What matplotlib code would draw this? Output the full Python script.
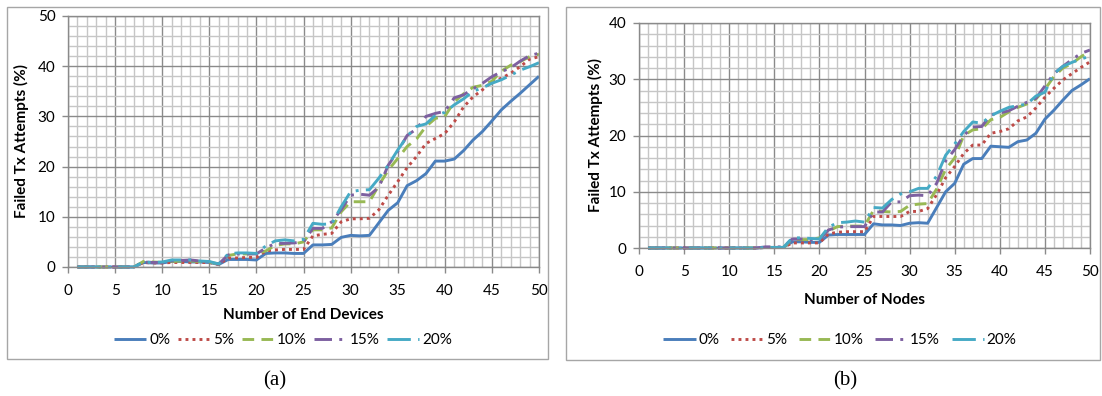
import matplotlib
matplotlib.use("Agg")
import matplotlib.pyplot as plt
from matplotlib.patches import Rectangle
from matplotlib.ticker import MultipleLocator

plt.rcParams['font.family'] = ['Lato', 'DejaVu Sans']

# ---- data -------------------------------------------------------------
nodes = list(range(1, 51))
series_labels = ["0%", "5%", "10%", "15%", "20%"]

# (a) failed transmission attempts vs number of end devices
end_dev_0 = [0, 0, 0, 0, 0, 0, 0, 0.9, 0.8, 0.8,
             1.1, 1.1, 1.0, 1.0, 0.9, 0.5, 1.5, 1.5, 1.5, 1.4,
             2.7, 2.8, 2.8, 2.7, 2.7, 4.4, 4.4, 4.5, 5.9, 6.3,
             6.2, 6.3, 8.8, 11.3, 12.8, 16.2, 17.2, 18.6, 21.1, 21.1,
             21.5, 23.2, 25.3, 27.0, 29.1, 31.3, 33.0, 34.6, 36.3, 38.0]
end_dev_5 = [0, 0, 0, 0, 0, 0, 0, 0.9, 0.8, 0.8,
             0.9, 0.9, 0.9, 0.9, 0.9, 0.5, 1.8, 1.8, 1.9, 1.9,
             3.2, 3.4, 3.5, 3.5, 3.5, 6.2, 6.5, 6.7, 9.0, 9.6,
             9.6, 9.7, 11.4, 14.3, 17.0, 19.8, 22.0, 24.6, 25.6, 26.6,
             28.9, 31.9, 33.9, 35.3, 36.9, 37.6, 38.6, 39.9, 41.4, 41.9]
end_dev_10 = [0, 0, 0, 0, 0, 0, 0, 1.1, 1.0, 0.9,
              1.1, 1.2, 1.2, 1.1, 1.0, 0.6, 2.3, 2.6, 2.6, 2.7,
              3.2, 4.3, 4.6, 4.6, 5.0, 7.4, 7.4, 7.8, 11.0, 13.0,
              13.0, 13.0, 16.3, 19.3, 21.6, 24.0, 25.5, 28.0, 29.6, 30.0,
              32.9, 34.5, 35.8, 36.2, 37.0, 39.0, 40.2, 40.9, 41.9, 42.4]
end_dev_15 = [0, 0, 0, 0, 0, 0, 0, 1.0, 0.9, 0.9,
              1.2, 1.3, 1.4, 1.2, 1.0, 0.6, 2.4, 2.6, 2.6, 2.6,
              3.8, 4.7, 4.7, 4.8, 5.0, 7.7, 7.7, 9.0, 11.4, 14.3,
              14.5, 14.3, 15.9, 20.3, 23.0, 26.2, 27.5, 30.0, 30.6, 31.0,
              33.7, 34.3, 35.5, 36.6, 37.9, 38.9, 39.7, 41.0, 42.1, 42.6]
end_dev_20 = [0, 0, 0, 0, 0, 0, 0, 1.0, 0.9, 1.0,
              1.4, 1.4, 1.4, 1.2, 1.1, 0.6, 2.6, 2.8, 2.8, 2.7,
              4.2, 5.2, 5.4, 5.2, 5.5, 8.7, 8.5, 8.6, 12.0, 15.0,
              15.3, 15.4, 17.7, 20.3, 23.3, 26.0, 28.0, 28.5, 30.2, 30.8,
              32.3, 33.5, 35.0, 35.7, 36.6, 37.3, 38.2, 39.2, 39.9, 40.7]

# (b) failed transmission attempts vs number of nodes
nodes_0 = [0, 0, 0, 0, 0, 0, 0, 0, 0, 0,
           0, 0, 0, 0.1, 0.1, 0.1, 1.1, 1.1, 1.0, 1.0,
           2.3, 2.4, 2.4, 2.4, 2.4, 4.3, 4.1, 4.1, 4.0, 4.4,
           4.5, 4.4, 7.2, 10.0, 11.5, 14.9, 15.9, 15.9, 18.1, 18.0,
           17.9, 18.9, 19.2, 20.4, 22.9, 24.5, 26.3, 28.0, 29.0, 30.1]
nodes_5 = [0, 0, 0, 0, 0, 0, 0, 0, 0, 0,
           0, 0, 0, 0.1, 0.1, 0.1, 0.9, 0.9, 0.9, 0.9,
           2.5, 2.8, 2.9, 2.9, 2.9, 5.6, 5.6, 5.6, 5.6, 6.5,
           6.5, 7.0, 9.5, 12.5, 14.5, 16.8, 18.3, 18.3, 20.4, 20.7,
           21.2, 22.6, 23.3, 24.9, 26.8, 28.4, 29.9, 31.0, 32.1, 33.1]
nodes_10 = [0, 0, 0, 0, 0, 0, 0, 0, 0, 0,
            0, 0, 0, 0.1, 0.1, 0.1, 1.5, 1.5, 1.5, 1.8,
            3.0, 3.8, 3.9, 3.9, 3.9, 6.7, 6.5, 6.4, 6.5, 7.6,
            7.8, 7.9, 10.5, 14.0, 16.0, 20.0, 21.0, 21.2, 22.8, 23.2,
            24.2, 25.0, 25.6, 26.5, 28.2, 30.5, 32.0, 32.8, 34.0, 35.0]
nodes_15 = [0, 0, 0, 0, 0, 0, 0, 0, 0, 0,
            0, 0, 0, 0.2, 0.2, 0.2, 1.6, 1.6, 1.5, 1.5,
            3.2, 3.7, 3.8, 3.8, 3.8, 6.4, 6.4, 8.2, 8.2, 9.3,
            9.4, 9.3, 11.5, 15.5, 17.5, 20.0, 21.5, 21.6, 23.7, 24.0,
            24.4, 25.2, 25.9, 26.6, 28.8, 31.0, 32.3, 33.5, 34.6, 35.2]
nodes_20 = [0, 0, 0, 0, 0, 0, 0, 0, 0, 0,
            0, 0, 0, 0.1, 0.1, 0.1, 1.8, 1.8, 1.7, 1.6,
            3.7, 4.5, 4.6, 4.8, 4.6, 7.2, 7.1, 8.6, 9.6, 10.0,
            10.6, 10.6, 12.8, 16.5, 18.5, 20.7, 22.4, 22.2, 23.5, 24.3,
            25.0, 25.3, 25.6, 27.0, 27.7, 31.0, 32.3, 33.0, 33.6, 34.1]

x_ticks = [0, 5, 10, 15, 20, 25, 30, 35, 40, 45, 50]

# ---- styles -----------------------------------------------------------
colors = ["#4A7EBB", "#BE4B48", "#98B954", "#7D60A0", "#46AAC5"]
dashes = [None, (1, 1.4), (4, 2.5), (6, 2.5, 1, 2.5), (8, 2.5, 1, 2.5)]
LW = 2.1
MAJOR_C = "#8a8a8a"
MINOR_C = "#c6c6c6"
FS = 11

fig = plt.figure(figsize=(11.02, 3.96), dpi=100)
W, H = 1102.0, 396.0

# chart frames
for (x0, y0, x1, y1) in [(7, 7, 548, 359), (566, 7, 1100, 360)]:
    fig.add_artist(Rectangle((x0 / W, 1 - y1 / H), (x1 - x0) / W, (y1 - y0) / H,
                             transform=fig.transFigure, fill=False,
                             edgecolor="#a6a6a6", linewidth=1.0))


def make_axes(px_left, px_top, px_right, px_bottom):
    return fig.add_axes([px_left / W, 1 - px_bottom / H,
                         (px_right - px_left) / W, (px_bottom - px_top) / H])


def style_axes(ax, ymax):
    ax.set_xlim(0, 50)
    ax.set_ylim(0, ymax)
    ax.set_xticks(x_ticks)
    ax.set_yticks(list(range(0, ymax + 1, 10)))
    ax.xaxis.set_minor_locator(MultipleLocator(1))
    ax.yaxis.set_minor_locator(MultipleLocator(2))
    ax.grid(which="minor", color=MINOR_C, linewidth=1.0)
    ax.grid(which="major", color=MAJOR_C, linewidth=1.0)
    ax.set_axisbelow(True)
    for s in ax.spines.values():
        s.set_color(MAJOR_C)
        s.set_linewidth(1.0)
    ax.tick_params(which="major", direction="out", length=4, width=1.0,
                   color=MAJOR_C, labelsize=FS, labelcolor="#000000")
    ax.tick_params(axis="x", which="major", pad=8)
    ax.tick_params(axis="y", which="major", pad=5)
    ax.tick_params(which="minor", length=0)


def draw(ax, data):
    handles = []
    for vals, c, d, lab in zip(data, colors, dashes, series_labels):
        line, = ax.plot(nodes, vals, color=c, linewidth=LW, label=lab,
                        clip_on=False, solid_capstyle="butt",
                        dash_capstyle="butt")
        if d is not None:
            line.set_dashes(d)
        handles.append(line)
    return handles


# ---- panel (a) --------------------------------------------------------
ax1 = make_axes(68, 16, 539, 267)
style_axes(ax1, 50)
h1 = draw(ax1, [end_dev_0, end_dev_5, end_dev_10, end_dev_15, end_dev_20])
ax1.set_xlabel("Number of End Devices", fontsize=FS, fontweight="bold", va="center")
ax1.xaxis.set_label_coords(0.5, (267 - 315) / 251.0)
ax1.set_ylabel("Failed Tx Attempts (%)", fontsize=FS, fontweight="bold", va="center")
ax1.yaxis.set_label_coords((21 - 68) / 471.0, 0.5)
fig.legend(handles=h1, loc="center", bbox_to_anchor=(283 / W, 1 - 340 / H),
           ncol=5, frameon=False, fontsize=FS, handlelength=2.1,
           handletextpad=0.2, columnspacing=0.5, borderaxespad=0)

# ---- panel (b) --------------------------------------------------------
ax2 = make_axes(639, 23, 1090, 248)
style_axes(ax2, 40)
h2 = draw(ax2, [nodes_0, nodes_5, nodes_10, nodes_15, nodes_20])
ax2.set_xlabel("Number of Nodes", fontsize=FS, fontweight="bold", va="center")
ax2.xaxis.set_label_coords(0.5, (248 - 300) / 225.0)
ax2.set_ylabel("Failed Tx Attempts (%)", fontsize=FS, fontweight="bold", va="center")
ax2.yaxis.set_label_coords((595 - 639) / 451.0, 0.5)
fig.legend(handles=h2, loc="center", bbox_to_anchor=(840 / W, 1 - 340 / H),
           ncol=5, frameon=False, fontsize=FS, handlelength=2.1,
           handletextpad=0.2, columnspacing=0.75, borderaxespad=0)

# captions
fig.text(275 / W, 1 - 381 / H, "(a)", ha="center", va="center",
         fontsize=15, family=["Liberation Serif", "DejaVu Serif"])
fig.text(845 / W, 1 - 381 / H, "(b)", ha="center", va="center",
         fontsize=15, family=["Liberation Serif", "DejaVu Serif"])

fig.savefig("out.png", dpi=100)
